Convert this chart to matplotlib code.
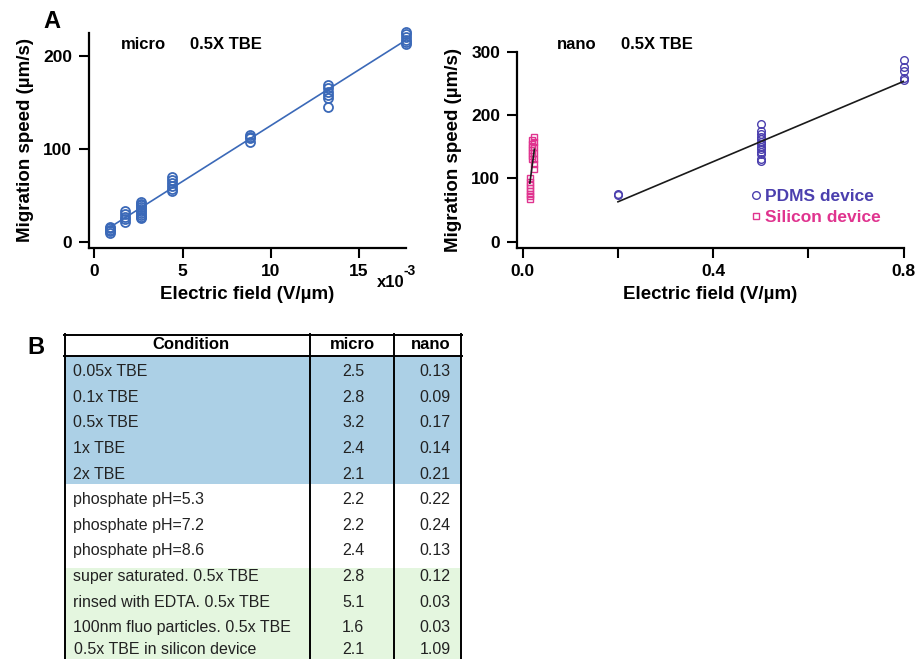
import numpy as np
import matplotlib
matplotlib.use('Agg')
import matplotlib.pyplot as plt

plt.rcParams['font.family'] = ['Liberation Sans', 'DejaVu Sans']
plt.rcParams['font.size'] = 12

# ---- data: micro channel, 0.5X TBE (field in units of 1e-3 V/um)
micro_field = [0.88, 1.76, 2.65, 4.41, 8.83, 13.25, 17.65]
micro_speed = [[9, 11, 13, 15, 16],
               [21, 24, 27, 30, 33],
               [25, 27, 29, 31, 33, 35, 37, 39, 41, 43],
               [54, 57, 60, 63, 66, 70],
               [107, 111, 113, 115],
               [145, 154, 158, 161, 165, 168],
               [213, 215, 217, 220, 223, 225]]
micro_fit = (12.0, 4.8)  # slope, intercept

# ---- data: nano channel, 0.5X TBE
pdms_field = [0.2, 0.5, 0.8]
pdms_speed = [[73, 76],
              [128, 131, 138, 142, 146, 150, 154, 158, 162, 166, 170, 175, 186],
              [255, 258, 270, 276, 287]]
pdms_fit = (317.0, -0.4)

si_field = [0.015, 0.019, 0.0245]
si_speed = [[68, 72, 76, 80, 85, 90, 95, 100],
            [130, 135, 140, 145, 150, 155, 160],
            [115, 122, 130, 140, 150, 158, 165]]
si_fit = (5643.0, 7.8)

# ---- table B
conditions = ['0.05x TBE', '0.1x TBE', '0.5x TBE', '1x TBE', '2x TBE',
              'phosphate pH=5.3', 'phosphate pH=7.2', 'phosphate pH=8.6',
              'super saturated. 0.5x TBE', 'rinsed with EDTA. 0.5x TBE',
              '100nm fluo particles. 0.5x TBE', '0.5x TBE in silicon device']
micro_vals = ['2.5', '2.8', '3.2', '2.4', '2.1', '2.2', '2.2', '2.4', '2.8', '5.1', '1.6', '2.1']
nano_vals = ['0.13', '0.09', '0.17', '0.14', '0.21', '0.22', '0.24', '0.13', '0.12', '0.03', '0.03', '1.09']

c_micro = '#3b69b8'
c_pdms = '#4b3fae'
c_si = '#e0348f'
c_blue = '#acd0e6'
c_green = '#e4f6df'

W, H = 921, 659
fig = plt.figure(figsize=(W/100, H/100), dpi=100)

def px(x, y):
    return x/W, 1-y/H

def style(ax):
    for s in ['top', 'right']:
        ax.spines[s].set_visible(False)
    for s in ['left', 'bottom']:
        ax.spines[s].set_linewidth(1.6)
    ax.tick_params(direction='out', length=7, width=1.5, pad=5)
    for lab in ax.get_xticklabels() + ax.get_yticklabels():
        lab.set_fontweight('bold')
        lab.set_fontsize(12.5)

# ---------------- left panel
ax1 = fig.add_axes([89/W, 1-247.7/H, (405.7-89)/W, (247.7-32.7)/H])
for xv, ys in zip(micro_field, micro_speed):
    ax1.plot([xv]*len(ys), ys, 'o', mfc='none', mec=c_micro, ms=6.5, mew=1.3, clip_on=False)
xf = np.array([micro_field[0], micro_field[-1]])
ax1.plot(xf, micro_fit[0]*xf + micro_fit[1], '-', c=c_micro, lw=1.2)
ax1.set_xlim(-0.3, 17.65)
ax1.set_ylim(-6.5, 224.7)
ax1.set_xticks([0, 5, 10, 15])
ax1.set_yticks([0, 100, 200])
style(ax1)
ax1.set_xlabel('Electric field (V/µm)', fontsize=13.5, fontweight='bold', labelpad=5)
ax1.set_ylabel('Migration speed (µm/s)', fontsize=13.5, fontweight='bold', labelpad=7)

# ---------------- right panel
ax2 = fig.add_axes([517/W, 1-247.7/H, (903.7-517)/W, (247.7-51.7)/H])
for i, (xv, ys) in enumerate(zip(pdms_field, pdms_speed)):
    ax2.plot([xv]*len(ys), ys, 'o', mfc='none', mec=c_pdms, ms=5.5, mew=1.0, clip_on=False,
             label='PDMS device' if i == 0 else None)
for i, (xv, ys) in enumerate(zip(si_field, si_speed)):
    ax2.plot([xv]*len(ys), ys, 's', mfc='none', mec=c_si, ms=5, mew=1.0,
             label='Silicon device' if i == 0 else None)
xf = np.array([pdms_field[0], pdms_field[-1]])
ax2.plot(xf, pdms_fit[0]*xf + pdms_fit[1], '-', c='#1a1a1a', lw=1.2)
xf = np.array([si_field[0], si_field[-1]])
ax2.plot(xf, si_fit[0]*xf + si_fit[1], '-', c='#1a1a1a', lw=1.2)
ax2.set_xlim(-0.012, 0.8)
ax2.set_ylim(-9.5, 300)
ax2.set_xticks([0, 0.2, 0.4, 0.6, 0.8])
ax2.set_xticklabels(['0.0', '', '0.4', '', '0.8'])
ax2.set_yticks([0, 100, 200, 300])
style(ax2)
ax2.set_xlabel('Electric field (V/µm)', fontsize=13.5, fontweight='bold', labelpad=5)
ax2.set_ylabel('Migration speed (µm/s)', fontsize=13.5, fontweight='bold', labelpad=7)
leg = ax2.legend(loc='upper left', bbox_to_anchor=(0.582, 0.345), frameon=False,
                 handlelength=0.6, handletextpad=0.25, labelspacing=0.35,
                 borderpad=0, labelcolor=[c_pdms, c_si],
                 prop={'weight': 'bold', 'size': 12.5})

# ---------------- panel texts
fig.text(*px(51.7, 21.7), 'A', fontsize=17, fontweight='bold', ha='center', va='center')
fig.text(*px(35.5, 347), 'B', fontsize=17, fontweight='bold', ha='center', va='center')
fig.text(*px(120.7, 44.3), 'micro', fontsize=12, fontweight='bold', va='center')
fig.text(*px(190, 44.3), '0.5X TBE', fontsize=12, fontweight='bold', va='center')
fig.text(*px(557.3, 44.3), 'nano', fontsize=12, fontweight='bold', va='center')
fig.text(*px(621, 44.3), '0.5X TBE', fontsize=12, fontweight='bold', va='center')
fig.text(*px(377, 287), 'x10', fontsize=12, fontweight='bold', va='baseline')
fig.text(*px(404, 275), '-3', fontsize=10, fontweight='bold', va='baseline')

# ---------------- table
ax3 = fig.add_axes([64/W, 0, (462-64)/W, (659-334)/H])
ax3.set_xlim(0, 398)
ax3.set_ylim(11.81, -0.857)
ax3.axis('off')
ax3.axhspan(0, 5, color=c_blue, lw=0)
ax3.axhspan(8.27, 12, color=c_green, lw=0)
for xv in [0.8, 246.3, 330.3, 397.2]:
    ax3.plot([xv, xv], [-0.857, 12], c='k', lw=1.4, clip_on=False)
for yv in [-0.82, 0]:
    ax3.plot([0, 398], [yv, yv], c='k', lw=1.4, clip_on=False)

ax3.text(126.7, -0.43, 'Condition', fontsize=12, fontweight='bold', ha='center', va='center')
ax3.text(288.3, -0.43, 'micro', fontsize=12, fontweight='bold', ha='center', va='center')
ax3.text(367, -0.43, 'nano', fontsize=12, fontweight='bold', ha='center', va='center')
row_y = np.arange(len(conditions)) + 0.6
row_y[-1] = 11.43
for i, (c, m, n) in enumerate(zip(conditions, micro_vals, nano_vals)):
    x0 = 10 if i == len(conditions) - 1 else 8.7
    ax3.text(x0, row_y[i], c, fontsize=11.5, ha='left', va='center', color='#222222')
    ax3.text(289.3, row_y[i], m, fontsize=11.5, ha='center', va='center', color='#222222')
    ax3.text(386.5, row_y[i], n, fontsize=11.5, ha='right', va='center', color='#222222')

fig.savefig('out.png', dpi=100)
